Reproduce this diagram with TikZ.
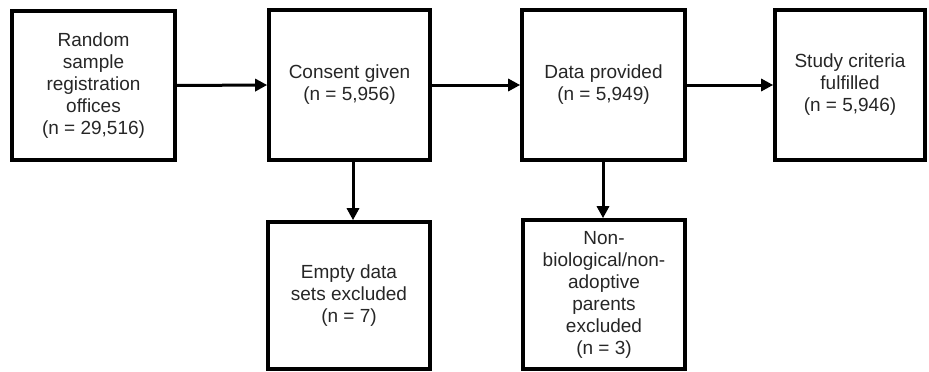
\documentclass[tikz,border=0pt]{standalone}
\usepackage{fontspec}
\setmainfont{Liberation Sans}
\usetikzlibrary{arrows.meta}
\begin{document}
\begin{tikzpicture}[x=1pt,y=-1pt,
  box/.style={draw=black, line width=3.6pt, inner sep=0pt, align=center,
    text=black!85, font=\fontsize{19}{22}\selectfont},
  arr/.style={line width=3pt, -{Triangle[length=12pt,width=12pt]}}]
\useasboundingbox (0,0) rectangle (929,372);
\node[box, minimum width=163pt, minimum height=149pt] (b1) at (93.5,85.5)
  {Random\\sample\\registration\\offices\\(n = 29,516)};
\node[box, minimum width=161pt, minimum height=150pt] (b2) at (349.5,85)
  {Consent given\\(n = 5,956)};
\node[box, minimum width=163pt, minimum height=150pt] (b3) at (603.5,85)
  {Data provided\\(n = 5,949)};
\node[box, minimum width=150pt, minimum height=150pt] (b4) at (850,85)
  {Study criteria\\fulfilled\\(n = 5,946)};
\node[box, minimum width=162pt, minimum height=147pt] (b5) at (349,295.5)
  {Empty data\\sets excluded\\(n = 7)};
\node[box, minimum width=162pt, minimum height=149pt] (b6) at (604,294.5)
  {Non-\\biological/non-\\adoptive\\parents\\excluded\\(n = 3)};
\draw[arr] (b1.east) -- (b2.west);
\draw[arr] (b2.east) -- (b3.west);
\draw[arr] (b3.east) -- (b4.west);
\draw[arr] ([xshift=3.5pt]b2.south) -- ([xshift=3.5pt]b2.south |- b5.north);
\draw[arr] ([xshift=-0.5pt]b3.south) -- ([xshift=-0.5pt]b3.south |- b6.north);
\end{tikzpicture}
\end{document}
